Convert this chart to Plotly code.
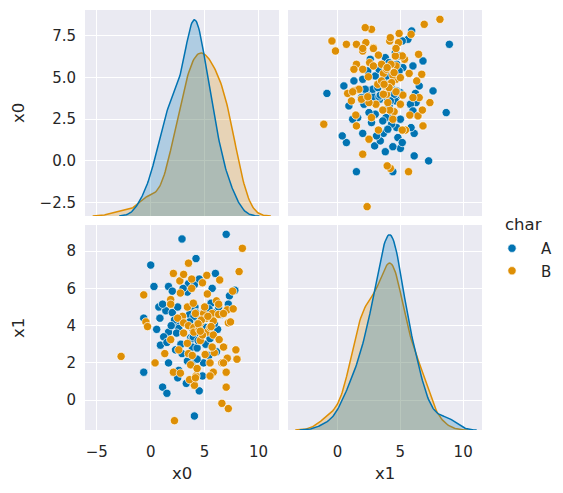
import numpy as np
import plotly.graph_objects as go

# ---------------- data ----------------
hue_levels = ["A", "B"]

A_x0 = [2.9, 7.0, 0.0, 0.3, -0.65, 1.1, 1.5, 4.05, 4.5, 4.2, 6.0, 5.7, 7.3, 7.8, 3.5,
        1.65, 2.0, 3.4, 0.75, 1.4, 1.1, 2.0, 0.85, -0.65, 2.6, 4.05, 7.2, 3.8, 4.9, 0.55,
        1.65, 0.9, 1.65, 2.6, 3.7, 3.85, 4.9, 4.0, 3.85,
        2.5, 3.95, 3.3, 2.2, 3.6, 4.1, 4.4, 3.9, 3.95, 2.8, 2.4, 4.6, 5.0, 4.7, 5.3, 1.9,
        1.2, 2.9, 3.4, 4.3, 5.1, 4.3, 3.0, 2.6, 1.5, 4.25, 3.7, 4.5, 5.6, 2.3, 3.8, 5.4,
        6.2, 6.5, 5.9, 4.2, 4.4, 4.8, 3.3, 2.5,
        5.2, 5.5, 5.8, 6.3, 5.1, 6.1, 5.4, 4.0, 3.6]
A_x1 = [8.65, 8.9, 7.25, 6.1, 1.5, 0.7, 0.37, -0.85, 0.5, 7.6, 6.8, 6.0, 5.6, 5.9, 6.25,
        6.1, 5.85, 5.8, 5.0, 4.8, 5.15, 4.7, 4.4, 4.4, 4.05, 6.2, 5.15, 4.15, 3.95, 3.8,
        3.65, 2.95, 2.0, 3.85, 3.35, 2.85, 2.0, 2.3, 3.3,
        5.0, 4.8, 4.1, 4.3, 4.6, 5.0, 4.3, 3.8, 3.4, 3.0, 3.6, 3.5, 4.9, 3.7, 3.9, 4.0,
        3.4, 2.5, 2.1, 2.8, 3.0, 2.2, 6.0, 1.6, 3.1, 4.4, 4.0, 6.5, 5.2, 2.7, 1.9, 2.4,
        3.8, 4.6, 4.1, 4.7, 3.2, 1.3, 0.9, 1.2,
        4.4, 3.3, 4.7, 5.0, 3.9, 2.6, 4.9, 4.5, 4.2]

B_x0 = [8.5, 8.2, 3.5, 7.6, 5.2, 6.4, -0.65, 2.1, 2.7, -2.75, 0.4, 2.2, 1.3, 2.1, 2.75,
        6.6, 7.2, 7.0, 7.9, 8.0, 7.0, 6.6, 5.8, 5.5, 4.2, 4.05, 3.6, 5.5, 5.9, 6.8,
        3.05, 3.8, 2.75, 1.85, 1.85, 3.4, 2.95, -0.45, -0.3, 2.5, 3.05, 3.5,
        4.8, 5.25, 3.8, 3.95, 6.1, 6.3, 7.1, 7.65, 4.15, 4.9, 5.7, 6.3, 6.75, 5.15, 5.8,
        4.6, 7.2, 4.0,
        1.85, 2.6, 3.05, 3.4, 3.5, 3.7,
        4.0, 4.6, 5.25, 5.8, 6.35, 5.7, 6.75, 7.1, 5.05, 3.85, 6.75, 4.3, 4.15,
        5.5, 4.7, 5.0, 4.5, 4.4, 7.4, 5.3, 4.8, 4.6, 5.6]
B_x1 = [8.15, 6.9, 7.35, 5.85, 6.7, 6.45, 5.65, 6.8, 6.4, 2.35, 2.0, -1.1, 2.5, 1.5, 1.45,
        -0.17, -0.45, 0.7, 2.7, 2.2, 1.5, 2.0, 1.5, 1.3, 1.3, 0.8, 1.1, 2.0, 2.55, 2.85,
        6.75, 6.5, 5.75, 5.4, 5.15, 5.0, 4.5, 4.2, 3.95, 4.4, 4.15, 4.0,
        6.3, 5.7, 6.0, 5.2, 5.33, 5.15, 4.85, 4.9, 4.65, 4.65, 4.65, 4.6, 4.65, 4.4, 4.25,
        4.15, 4.15, 3.9,
        3.25, 2.7, 3.6, 3.05, 2.5, 1.9,
        3.65, 3.2, 3.65, 3.5, 3.25, 2.85, 2.85, 2.25, 2.45, 2.4, 2.0, 1.7, 1.2,
        3.9, 4.3, 5.0, 3.8, 4.1, 4.2, 4.5, 3.5, 3.7, 3.95]

x0_ticks = [-5, 0, 5, 10]
x1_ticks = [0, 5, 10]
row_x0_ticks = [-2.5, 0.0, 2.5, 5.0, 7.5]
row_x1_ticks = [0, 2, 4, 6, 8]

colors = {"A": "#0173b2", "B": "#de8f05"}
fills = {"A": "rgba(1,115,178,0.25)", "B": "rgba(222,143,5,0.25)"}

data = {"A": (A_x0, A_x1), "B": (B_x0, B_x1)}
n_total = len(A_x0) + len(B_x0)


def kde(vals, weight):
    v = np.asarray(vals, dtype=float)
    n = len(v)
    bw = v.std(ddof=1) * n ** (-0.2)
    grid = np.linspace(v.min() - 3 * bw, v.max() + 3 * bw, 200)
    d = np.exp(-0.5 * ((grid[:, None] - v[None, :]) / bw) ** 2).sum(1) / (n * bw * np.sqrt(2 * np.pi))
    return grid, d * weight


fig = go.Figure()

# the page body adds an 8px offset; work in window pixels and subtract it
OFF = 8
W, H = 563 - OFF, 493 - OFF
def xd(a, b):
    return [(a - OFF) / W, (b - OFF) / W]
def yd(top, bot):
    return [1 - (bot - OFF) / H, 1 - (top - OFF) / H]
def px(x):
    return (x - OFF) / W
def py(y):
    return 1 - (y - OFF) / H

col1 = xd(85, 279)
col2 = xd(288, 482)
row1 = yd(10, 216)
row2 = yd(225, 430)

# empty base traces so that the diagonal base subplots exist
fig.add_trace(go.Scatter(x=[], y=[], xaxis="x", yaxis="y", showlegend=False, hoverinfo="skip"))
fig.add_trace(go.Scatter(x=[], y=[], xaxis="x4", yaxis="y4", showlegend=False, hoverinfo="skip"))

# diagonal KDEs (B drawn first, A on top)
dens_max = {0: 0, 1: 0}
for lvl in ["B", "A"]:
    w = len(data[lvl][0]) / n_total
    for k, (xa, ya) in enumerate([("x", "y5"), ("x4", "y6")]):
        g, d = kde(data[lvl][k], w)
        dens_max[k] = max(dens_max[k], d.max())
        fig.add_trace(go.Scatter(x=g, y=d, mode="lines", xaxis=xa, yaxis=ya,
                                 line=dict(color=colors[lvl], width=1.5),
                                 fill="tozeroy", fillcolor=fills[lvl],
                                 showlegend=False, hoverinfo="skip"))

# scatter panels
for lvl in hue_levels:
    x0v, x1v = data[lvl]
    mk = dict(color=colors[lvl], size=8.3, line=dict(color="white", width=0.7))
    fig.add_trace(go.Scatter(x=x1v, y=x0v, mode="markers", xaxis="x2", yaxis="y2",
                             marker=mk, showlegend=False))
    fig.add_trace(go.Scatter(x=x0v, y=x1v, mode="markers", xaxis="x3", yaxis="y3",
                             marker=mk, name=lvl, showlegend=True))

font = "DejaVu Sans"
tcol = "#262626"
bg = "#eaeaf2"
ax_common = dict(showgrid=True, gridcolor="white", gridwidth=1.3, zeroline=False,
                 showline=False, tickfont=dict(family=font, size=15, color=tcol),
                 ticks="")
xa_common = dict(ax_common, ticklabelstandoff=11)
ya_common = dict(ax_common, ticklabelstandoff=8)

x0_range = [-6.1, 11.9]
x1_range = [-3.95, 11.5]
rx0_range = [-3.31, 9.06]
rx1_range = [-1.6, 9.4]

fig.update_layout(
    width=W, height=H, margin=dict(l=0, r=0, t=0, b=0),
    paper_bgcolor="white", plot_bgcolor=bg,
    font=dict(family=font, color=tcol),
    xaxis=dict(domain=col1, anchor="y", range=x0_range, tickvals=x0_ticks, showticklabels=False, **xa_common),
    yaxis=dict(domain=row1, anchor="x", range=rx0_range, tickvals=row_x0_ticks,
               ticktext=["\u22122.5", "0.0", "2.5", "5.0", "7.5"], **ya_common),
    xaxis2=dict(domain=col2, anchor="y2", range=x1_range, tickvals=x1_ticks, showticklabels=False, **xa_common),
    yaxis2=dict(domain=row1, anchor="x2", range=rx0_range, tickvals=row_x0_ticks, showticklabels=False, **ya_common),
    xaxis3=dict(domain=col1, anchor="y3", range=x0_range, tickvals=x0_ticks,
                ticktext=["\u22125", "0", "5", "10"], **xa_common),
    yaxis3=dict(domain=row2, anchor="x3", range=rx1_range, tickvals=row_x1_ticks, **ya_common),
    xaxis4=dict(domain=col2, anchor="y4", range=x1_range, tickvals=x1_ticks, **xa_common),
    yaxis4=dict(domain=row2, anchor="x4", range=rx1_range, tickvals=row_x1_ticks, showticklabels=False, **ya_common),
    yaxis5=dict(overlaying="y", anchor="x", domain=row1, range=[0, dens_max[0] * 1.05],
                visible=False, showgrid=False, zeroline=False),
    yaxis6=dict(overlaying="y4", anchor="x4", domain=row2, range=[0, dens_max[1] * 1.05],
                visible=False, showgrid=False, zeroline=False),
    legend=dict(x=px(483), y=py(232), xanchor="left", yanchor="top",
                font=dict(family=font, size=15, color=tcol), bgcolor="rgba(0,0,0,0)",
                itemwidth=48, tracegroupgap=0),
    showlegend=True,
)

ann = [
    dict(text="x0", x=px(18), y=py(113), textangle=-90),
    dict(text="x1", x=px(18), y=py(328), textangle=-90),
    dict(text="x0", x=px(182), y=py(473)),
    dict(text="x1", x=px(385), y=py(473)),
]
for a in ann:
    fig.add_annotation(xref="paper", yref="paper", showarrow=False, xanchor="center", yanchor="middle",
                       font=dict(family=font, size=16.5, color=tcol), **a)
fig.add_annotation(xref="paper", yref="paper", showarrow=False, text="char",
                   x=px(503), y=py(224), xanchor="left", yanchor="middle",
                   font=dict(family=font, size=16.5, color=tcol))

fig.write_html("out.html")
